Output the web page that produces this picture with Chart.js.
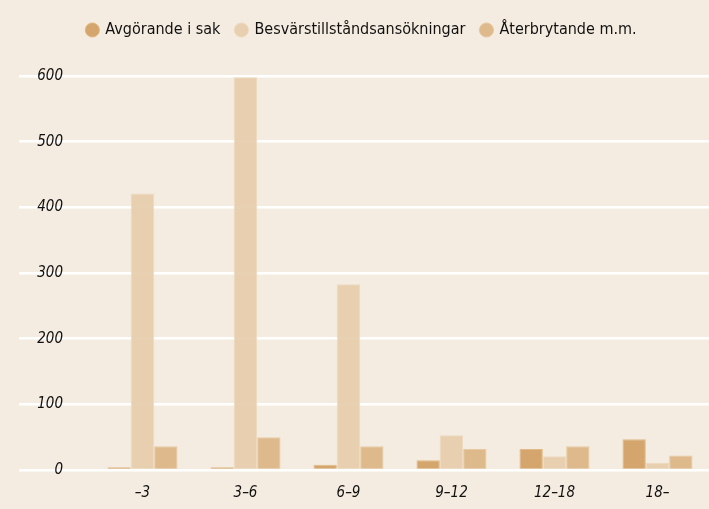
<!DOCTYPE html>
<html>
<head>
<meta charset="utf-8">
<script src="https://cdn.jsdelivr.net/npm/chart.js@4"></script>
<style>
  html, body { margin: 0; padding: 0; background: #f4ece0; }
  #wrap { width: 709px; height: 509px; }
</style>
</head>
<body>
<div id="wrap"><canvas id="chartCanvas"></canvas></div>
<script>
// kategorier (år)
const categories = ['–3', '3–6', '6–9', '9–12', '12–18', '18–'];
const seriesNames = ['Avgörande i sak', 'Besvärstillståndsansökningar', 'Återbrytande m.m.'];
const avgorande = [4, 4, 8, 15, 32, 47];
const besvar = [421, 598, 283, 53, 21, 11];
const aterbrytande = [36, 50, 36, 32, 36, 22];
const yTicks = [0, 100, 200, 300, 400, 500, 600];

const colors = ['rgba(208,158,96,0.9)', 'rgba(229,203,167,0.88)', 'rgba(217,178,127,0.88)'];
const borders = ['rgba(225,180,125,0.9)', 'rgba(236,216,188,0.9)', 'rgba(230,198,155,0.9)'];

// smal (condensed) variant av DejaVu Sans
const fontFamily = '"DejaVu Sans", sans-serif';

const ctx = document.getElementById('chartCanvas').getContext('2d');

new Chart(ctx, {
  type: 'bar',
  data: {
    labels: categories,
    datasets: [avgorande, besvar, aterbrytande].map((values, i) => ({
      label: seriesNames[i],
      data: values,
      backgroundColor: colors[i],
      borderColor: borders[i],
      borderWidth: 1,
      categoryPercentage: 0.68,
      barPercentage: 1.0
    }))
  },
  options: {
    responsive: true,
    maintainAspectRatio: false,
    animation: false,
    layout: { padding: { left: 0, right: -15, top: 6, bottom: 0 } },
    plugins: {
      legend: {
        position: 'top',
        align: 'center',
        weight: 3000,
        labels: {
          usePointStyle: true,
          pointStyle: 'circle',
          boxWidth: 10,
          boxHeight: 10,
          padding: 16,
          color: '#111',
          font: { family: fontFamily, size: 16, weight: 'condensed' }
        }
      },
      // tomt utrymme mellan legend och diagram
      title: {
        display: true,
        text: ' ',
        padding: 0,
        font: { size: 28, lineHeight: 1 }
      },
      tooltip: { enabled: false }
    },
    scales: {
      x: {
        grid: { display: false },
        border: { display: false },
        ticks: {
          color: '#111',
          padding: 6,
          font: { family: fontFamily, size: 15, style: 'italic', weight: 'condensed' }
        },
        afterFit(scale) { scale.height = 39; }
      },
      y: {
        min: 0,
        max: 600,
        afterBuildTicks(scale) { scale.ticks = yTicks.map(v => ({ value: v })); },
        grid: {
          color: '#ffffff',
          lineWidth: 2.5,
          drawTicks: true,
          tickLength: 72
        },
        border: { display: false },
        ticks: {
          color: '#111',
          padding: -44,
          font: { family: fontFamily, size: 15, style: 'italic', weight: 'condensed' }
        },
        afterFit(scale) { scale.width = 91; }
      }
    }
  }
});
</script>
</body>
</html>
